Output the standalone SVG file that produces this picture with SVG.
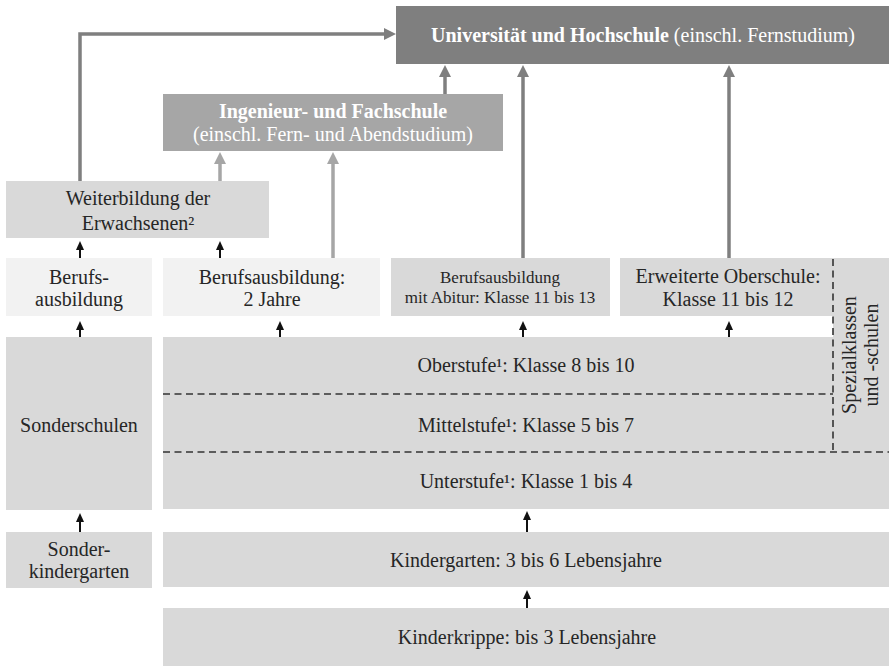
<svg xmlns="http://www.w3.org/2000/svg" width="889" height="666" viewBox="0 0 889 666">
<style>
text{font-family:"Liberation Serif","Times New Roman",serif;font-size:20px;fill:#262626;text-anchor:middle}
.w{fill:#ffffff}
.b{font-weight:bold}
.s{font-size:17px}
.dark{fill:#7f7f7f}
.mid{fill:#a6a6a6}
.lt{fill:#d9d9d9}
.xl{fill:#f2f2f2}
.dash{stroke:#333333;stroke-width:1.6;stroke-dasharray:7 4.5;fill:none}
.ag{stroke:#7f7f7f;stroke-width:3.5;fill:none}
.al{stroke:#a6a6a6;stroke-width:3.5;fill:none}
.ab{stroke:#111111;stroke-width:2;fill:none}
</style>
<defs>
<marker id="mg" markerUnits="userSpaceOnUse" markerWidth="12" markerHeight="12" viewBox="0 0 12 12" refX="8" refY="6" orient="auto"><path d="M0,0 L12,6 L0,12 z" fill="#7f7f7f"/></marker>
<marker id="ml" markerUnits="userSpaceOnUse" markerWidth="12" markerHeight="12" viewBox="0 0 12 12" refX="8" refY="6" orient="auto"><path d="M0,0 L12,6 L0,12 z" fill="#a6a6a6"/></marker>
<marker id="mb" markerUnits="userSpaceOnUse" markerWidth="9" markerHeight="8" viewBox="0 0 9 8" refX="6" refY="4" orient="auto"><path d="M0,0 L9,4 L0,8 z" fill="#111111"/></marker>
</defs>
<rect width="889" height="666" fill="#ffffff"/>

<g id="uni">
<rect class="dark" x="396" y="6" width="493" height="58"/>
<text class="w" x="643" y="42"><tspan class="b">Universität und Hochschule</tspan> (einschl. Fernstudium)</text>
</g>
<g id="ingenieur">
<rect class="mid" x="163" y="94" width="340" height="57"/>
<text class="w b" x="333" y="118">Ingenieur- und Fachschule</text>
<text class="w" x="333" y="141">(einschl. Fern- und Abendstudium)</text>
</g>
<g id="weiterbildung">
<rect class="lt" x="6" y="181" width="263" height="57"/>
<text x="138" y="205">Weiterbildung der</text>
<text x="138" y="230">Erwachsenen²</text>
</g>
<g id="berufsausbildung">
<rect class="xl" x="6" y="258" width="146" height="58"/>
<text x="79" y="284">Berufs-</text>
<text x="79" y="306">ausbildung</text>
</g>
<g id="berufsausbildung2">
<rect class="xl" x="163" y="258" width="217" height="58"/>
<text x="272" y="284">Berufsausbildung:</text>
<text x="272" y="306">2 Jahre</text>
</g>
<g id="abitur">
<rect class="lt" x="391" y="258" width="219" height="58"/>
<text class="s" x="500" y="283">Berufsausbildung</text>
<text class="s" x="500" y="303">mit Abitur: Klasse 11 bis 13</text>
</g>
<g id="eos">
<rect class="lt" x="620" y="258" width="213" height="58"/>
<text x="728" y="283">Erweiterte Oberschule:</text>
<text x="728" y="306">Klasse 11 bis 12</text>
</g>
<g id="spezial">
<rect class="lt" x="833" y="258" width="56" height="194"/>
<text transform="translate(856,355) rotate(-90)">Spezialklassen</text>
<text transform="translate(878,355) rotate(-90)">und -schulen</text>
</g>
<g id="oberstufe">
<rect class="lt" x="163" y="337" width="670" height="57"/>
<text x="526" y="372">Oberstufe¹: Klasse 8 bis 10</text>
</g>
<g id="mittelstufe">
<rect class="lt" x="163" y="394" width="670" height="58"/>
<text x="526" y="432">Mittelstufe¹: Klasse 5 bis 7</text>
</g>
<g id="unterstufe">
<rect class="lt" x="163" y="452" width="726" height="57"/>
<text x="526" y="488">Unterstufe¹: Klasse 1 bis 4</text>
</g>
<g id="sonderschulen">
<rect class="lt" x="6" y="337" width="146" height="173"/>
<text x="79" y="432">Sonderschulen</text>
</g>
<g id="sonderkindergarten">
<rect class="lt" x="6" y="532" width="146" height="56"/>
<text x="79" y="556">Sonder-</text>
<text x="79" y="578">kindergarten</text>
</g>
<g id="kindergarten">
<rect class="lt" x="163" y="532" width="726" height="55"/>
<text x="526" y="567">Kindergarten: 3 bis 6 Lebensjahre</text>
</g>
<g id="kinderkrippe">
<rect class="lt" x="163" y="608" width="726" height="58"/>
<text x="527" y="644">Kinderkrippe: bis 3 Lebensjahre</text>
</g>

<g id="dividers">
<path class="dash" d="M163,394 H833"/>
<path class="dash" d="M833,259 V452"/>
<path class="dash" d="M163,452 H889"/>
</g>

<g id="connectors">
<path class="ag" d="M80,181 V34 H392" marker-end="url(#mg)"/>
<path class="ag" d="M445,94 V69" marker-end="url(#mg)"/>
<path class="ag" d="M523,258 V69" marker-end="url(#mg)"/>
<path class="ag" d="M729,258 V69" marker-end="url(#mg)"/>
<path class="al" d="M220,181 V156" marker-end="url(#ml)"/>
<path class="al" d="M333,258 V156" marker-end="url(#ml)"/>
<path class="ab" d="M80,258 V244" marker-end="url(#mb)"/>
<path class="ab" d="M220,258 V244" marker-end="url(#mb)"/>
<path class="ab" d="M80,337 V324" marker-end="url(#mb)"/>
<path class="ab" d="M280,337 V324" marker-end="url(#mb)"/>
<path class="ab" d="M523,337 V324" marker-end="url(#mb)"/>
<path class="ab" d="M729,337 V324" marker-end="url(#mb)"/>
<path class="ab" d="M80,532 V516" marker-end="url(#mb)"/>
<path class="ab" d="M527,532 V514" marker-end="url(#mb)"/>
<path class="ab" d="M527,608 V593" marker-end="url(#mb)"/>
</g>
</svg>
